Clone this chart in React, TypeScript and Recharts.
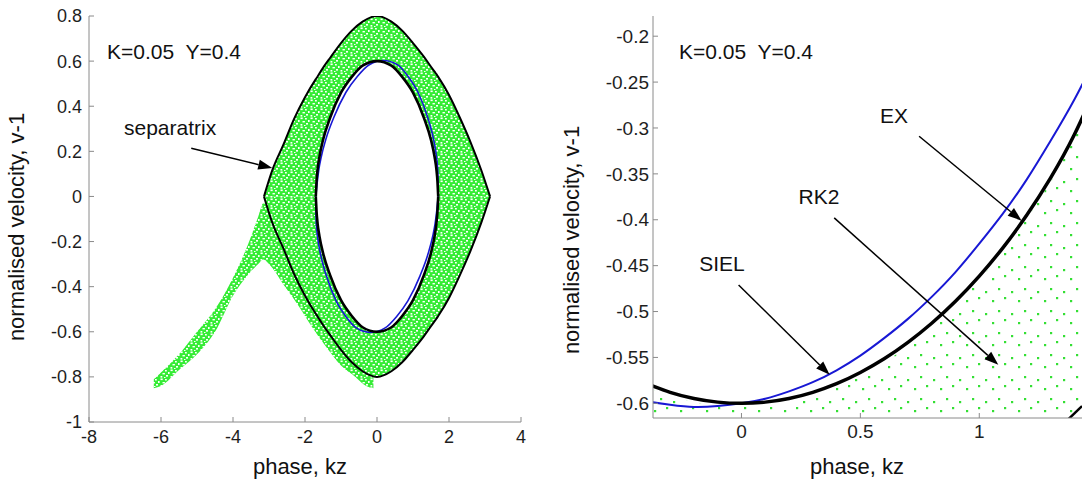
import React from 'react';
import { ComposedChart, Line, Area, XAxis, YAxis, ReferenceLine } from 'recharts';

const FONT = '"Liberation Sans", Arial, Helvetica, sans-serif';
const AXIS = '#8a8a8a';
const EX_BLUE = '#1818d4';

// ---------- left panel: whole phase plane ----------
const sepPhi = [-3.14, -2.9, -2.6, -2.3, -2.0, -1.7, -1.65, -1.6, -1.5, -1.3, -1.0, -0.7, -0.4, 0, 0.4, 0.7, 1.0, 1.3, 1.5, 1.6, 1.65, 1.7, 2.0, 2.3, 2.6, 2.9, 3.14];
const sepTop = [0, 0.12, 0.23, 0.345, 0.44, 0.52, 0.532, 0.545, 0.57, 0.615, 0.68, 0.735, 0.775, 0.8, 0.775, 0.735, 0.68, 0.62, 0.575, 0.553, 0.542, 0.53, 0.45, 0.35, 0.24, 0.115, 0];
// inner orbit on the separatrix grid (0 where the eye is closed)
const holeTop = [0, 0, 0, 0, 0, 0, 0.12, 0.175, 0.25, 0.35, 0.46, 0.53, 0.58, 0.6, 0.58, 0.53, 0.46, 0.35, 0.25, 0.175, 0.12, 0, 0, 0, 0, 0, 0];

// inner trapped orbit (SIEL, black)
const innerPhi = [-1.7, -1.68, -1.65, -1.6, -1.5, -1.3, -1.0, -0.7, -0.4, 0, 0.4, 0.7, 1.0, 1.3, 1.5, 1.6, 1.65, 1.68, 1.7];
const innerTop = [0, 0.065, 0.12, 0.175, 0.25, 0.35, 0.46, 0.53, 0.58, 0.6, 0.58, 0.53, 0.46, 0.35, 0.25, 0.175, 0.12, 0.065, 0];

// same orbit from EX (blue), slightly tilted
const exUpPhi = [-1.7, -1.662, -1.614, -1.548, -1.425, -1.195, -0.862, -0.541, -0.226, 0.18, 0.574, 0.859, 1.138, 1.405, 1.575, 1.653, 1.686, 1.698, 1.7];
const exUpV = [0, 0.06, 0.121, 0.176, 0.251, 0.352, 0.462, 0.533, 0.583, 0.603, 0.583, 0.533, 0.462, 0.352, 0.251, 0.176, 0.121, 0.06, 0];
const exLowPhi = [-1.7, -1.698, -1.686, -1.653, -1.575, -1.405, -1.138, -0.859, -0.574, -0.18, 0.226, 0.541, 0.862, 1.195, 1.425, 1.548, 1.614, 1.662, 1.7];
const exLowV = [0, -0.06, -0.121, -0.176, -0.251, -0.352, -0.462, -0.533, -0.583, -0.603, -0.583, -0.533, -0.462, -0.352, -0.251, -0.176, -0.121, -0.06, 0];

// untrapped particles leaking out to the left
const tailPhi = [-6.2, -6.0, -5.5, -5.0, -4.5, -4.0, -3.6, -3.3, -3.16, -3.0, -2.6, -2.2, -1.8, -1.4, -1.0, -0.6, -0.3, -0.1];
const tailHigh = [-0.81, -0.78, -0.7, -0.6, -0.5, -0.36, -0.22, -0.09, -0.03, -0.04, -0.2, -0.35, -0.47, -0.57, -0.66, -0.72, -0.77, -0.79];
const tailLow = [-0.85, -0.84, -0.77, -0.7, -0.6, -0.44, -0.35, -0.3, -0.28, -0.3, -0.39, -0.48, -0.58, -0.67, -0.75, -0.8, -0.84, -0.85];

const leftXTicks = [-8, -6, -4, -2, 0, 2, 4];
const leftYTicks = [-1, -0.8, -0.6, -0.4, -0.2, 0, 0.2, 0.4, 0.6, 0.8];

// ---------- right panel: zoom on the bottom of the orbit ----------
const zoomPhi = [-0.4, -0.3, -0.2, -0.1, 0, 0.1, 0.2, 0.3, 0.4, 0.5, 0.6, 0.7, 0.8, 0.9, 1.0, 1.1, 1.2, 1.3, 1.4, 1.5];
const sielV = [-0.5786, -0.588, -0.5947, -0.5987, -0.6, -0.5987, -0.5947, -0.588, -0.5786, -0.5664, -0.5515, -0.5336, -0.5128, -0.4888, -0.4614, -0.4303, -0.3949, -0.3544, -0.3072, -0.2504];
const exV = [-0.598, -0.6015, -0.604, -0.603, -0.6, -0.595, -0.587, -0.577, -0.564, -0.548, -0.529, -0.508, -0.484, -0.457, -0.426, -0.393, -0.356, -0.314, -0.269, -0.218];
const zoomSepPhi = [1.36, 1.432];
const zoomSepV = [-0.621, -0.603];

const rightXTicks = [0, 0.5, 1];
const rightYTicks = [-0.6, -0.55, -0.5, -0.45, -0.4, -0.35, -0.3, -0.25, -0.2];

const pts = (xs: number[], ys: number[]) => xs.map((x, i) => ({ x, y: ys[i] }));
const band = (xs: number[], lo: number[], hi: number[]) => xs.map((x, i) => ({ x, band: [lo[i], hi[i]] }));
const neg = (a: number[]) => a.map(v => -v);

const sepUpper = pts(sepPhi, sepTop);
const sepLower = pts(sepPhi, neg(sepTop));
const bandUpper = band(sepPhi, holeTop, sepTop);
const bandLower = band(sepPhi, neg(sepTop), neg(holeTop));
const innerUpper = pts(innerPhi, innerTop);
const innerLower = pts(innerPhi, neg(innerTop));
const exUpper = pts(exUpPhi, exUpV);
const exLower = pts(exLowPhi, exLowV);
const tailBand = band(tailPhi, tailLow, tailHigh);

const sielZoom = pts(zoomPhi, sielV);
const exZoom = pts(zoomPhi, exV);
const sepZoom = pts(zoomSepPhi, zoomSepV);
const dotsZoom = band(zoomPhi, zoomPhi.map(() => -0.63), sielV.map(v => v - 0.004));

// inward MATLAB-style ticks, drawn by hand
const tickFor = (side: 'left' | 'bottom' | 'top' | 'right', gap: number, size: number) => (p: any) => {
    const { x, y, payload } = p;
    const len = 5;
    const label = String(payload.value);
    const txt = { fontSize: size, fontFamily: FONT, fill: '#1e1e1e' };
    if (side === 'left') {
        return (
            <g>
                <line x1={x + gap} y1={y} x2={x + gap + len} y2={y} stroke={AXIS} />
                <text x={x} y={y} dy="0.355em" textAnchor="end" {...txt}>{label}</text>
            </g>
        );
    }
    if (side === 'bottom') {
        return (
            <g>
                <line x1={x} y1={y - gap} x2={x} y2={y - gap - len} stroke={AXIS} />
                <text x={x} y={y} dy="0.71em" textAnchor="middle" {...txt}>{label}</text>
            </g>
        );
    }
    if (side === 'top') return <line x1={x} y1={y} x2={x} y2={y + len} stroke={AXIS} />;
    return <line x1={x} y1={y} x2={x - len} y2={y} stroke={AXIS} />;
};

const Arrow = (p: any) => {
    const { x1, y1, x2, y2 } = p;
    const a = Math.atan2(y2 - y1, x2 - x1);
    const L = 14;
    const W = 5;
    const bx = x2 - L * Math.cos(a);
    const by = y2 - L * Math.sin(a);
    const nx = -Math.sin(a) * W;
    const ny = Math.cos(a) * W;
    return (
        <g>
            <line x1={x1} y1={y1} x2={bx} y2={by} stroke="#000" strokeWidth={1.5} />
            <polygon points={`${x2},${y2} ${bx + nx},${by + ny} ${bx - nx},${by - ny}`} fill="#000" />
        </g>
    );
};

const Note = ({ x, y, size = 21, center = false, children }: any) => (
    <div style={{
        position: 'absolute', left: x, top: y, fontSize: size, lineHeight: 1, whiteSpace: 'pre', color: '#111',
        transform: center ? 'translate(-50%, -50%)' : 'translateY(-50%)'
    }}>{children}</div>
);

const VLabel = ({ x, y, children }: any) => (
    <div style={{
        position: 'absolute', left: x, top: y, fontSize: 22, lineHeight: 1, whiteSpace: 'nowrap', color: '#111',
        transform: 'translate(-50%, -50%) rotate(-90deg)'
    }}>{children}</div>
);

const lineProps = { dataKey: 'y', dot: false, activeDot: false, isAnimationActive: false, type: 'monotone' as const };
const areaProps = { dataKey: 'band', stroke: 'none', dot: false, activeDot: false, isAnimationActive: false, type: 'monotone' as const };

export default function App() {
    return (
        <div style={{ position: 'fixed', left: 0, top: 0, width: 1085, height: 482, overflow: 'hidden', background: '#fff', fontFamily: FONT }}>
            <div style={{ position: 'absolute', left: 0, top: 0 }}>
                <ComposedChart width={540} height={482} margin={{ top: 16, right: 19, bottom: 0, left: 29 }}>
                    <defs>
                        <pattern id="greenDense" patternUnits="userSpaceOnUse" width={10} height={9}>
                            <rect width={10} height={9} fill="#35ec35" />
                            <rect x={0.5} y={0.5} width={2.2} height={1.6} fill="#fff" />
                            <rect x={5} y={1} width={1.8} height={1.5} fill="#fff" />
                            <rect x={8} y={3} width={1.6} height={2} fill="#fff" />
                            <rect x={2.5} y={4} width={2.4} height={1.4} fill="#fff" />
                            <rect x={6} y={6} width={2} height={1.6} fill="#fff" />
                            <rect x={0.5} y={7} width={1.8} height={1.6} fill="#fff" />
                            <rect x={4} y={8} width={1.5} height={1} fill="#fff" />
                        </pattern>
                    </defs>
                    <XAxis type="number" dataKey="x" domain={[-8, 4]} ticks={leftXTicks} interval={0} allowDataOverflow
                        height={60} tickSize={0} tickMargin={8} tickLine={false} tick={tickFor('bottom', 8, 18)} axisLine={{ stroke: AXIS }} />
                    <XAxis xAxisId="top" orientation="top" type="number" dataKey="x" domain={[-8, 4]} ticks={leftXTicks} interval={0} allowDataOverflow
                        height={0} tickSize={0} tickMargin={0} tickLine={false} tick={tickFor('top', 0, 0)} axisLine={{ stroke: AXIS }} />
                    <YAxis type="number" domain={[-1, 0.8]} ticks={leftYTicks} interval={0} allowDataOverflow
                        width={60} tickSize={0} tickMargin={7} tickLine={false} tick={tickFor('left', 7, 18)} axisLine={{ stroke: AXIS }} />
                    <YAxis yAxisId="right" orientation="right" type="number" domain={[-1, 0.8]} ticks={leftYTicks} interval={0} allowDataOverflow
                        width={0} tickSize={0} tickMargin={0} tickLine={false} tick={tickFor('right', 0, 0)} axisLine={{ stroke: AXIS }} />

                    <Line {...lineProps} data={exUpper} stroke={EX_BLUE} strokeWidth={1.6} />
                    <Line {...lineProps} data={exLower} stroke={EX_BLUE} strokeWidth={1.6} />
                    <Area {...areaProps} data={tailBand} fill="url(#greenDense)" fillOpacity={1} />
                    <Area {...areaProps} data={bandUpper} fill="url(#greenDense)" fillOpacity={1} />
                    <Area {...areaProps} data={bandLower} fill="url(#greenDense)" fillOpacity={1} />
                    <Line {...lineProps} data={innerUpper} stroke="#000" strokeWidth={2.6} />
                    <Line {...lineProps} data={innerLower} stroke="#000" strokeWidth={2.6} />
                    <Line {...lineProps} data={sepUpper} stroke="#000" strokeWidth={2} />
                    <Line {...lineProps} data={sepLower} stroke="#000" strokeWidth={2} />
                    <ReferenceLine segment={[{ x: -5.16, y: 0.214 }, { x: -2.91, y: 0.126 }]} shape={Arrow} />
                </ComposedChart>
            </div>

            <div style={{ position: 'absolute', left: 540, top: 0 }}>
                <ComposedChart width={545} height={482} margin={{ top: 16, right: 3, bottom: 0, left: 43 }}>
                    <defs>
                        <pattern id="greenSparse" patternUnits="userSpaceOnUse" width={26} height={22}>
                            <rect x={3} y={5} width={2.2} height={2.2} fill="#33df33" />
                            <rect x={16} y={2} width={2.2} height={2.2} fill="#33df33" />
                            <rect x={10} y={14} width={2.2} height={2.2} fill="#33df33" />
                            <rect x={22} y={11} width={2.2} height={2.2} fill="#33df33" />
                        </pattern>
                    </defs>
                    <XAxis type="number" dataKey="x" domain={[-0.372, 1.432]} ticks={rightXTicks} interval={0} allowDataOverflow
                        height={64} tickSize={0} tickMargin={7} tickLine={false} tick={tickFor('bottom', 7, 19)} axisLine={{ stroke: AXIS }} />
                    <XAxis xAxisId="top" orientation="top" type="number" dataKey="x" domain={[-0.372, 1.432]} ticks={rightXTicks} interval={0} allowDataOverflow
                        height={0} tickSize={0} tickMargin={0} tickLine={false} tick={tickFor('top', 0, 0)} axisLine={{ stroke: AXIS }} />
                    <YAxis type="number" domain={[-0.616, -0.178]} ticks={rightYTicks} interval={0} allowDataOverflow
                        width={70} tickSize={0} tickMargin={4} tickLine={false} tick={tickFor('left', 4, 19)} axisLine={{ stroke: AXIS }} />
                    <YAxis yAxisId="right" orientation="right" type="number" domain={[-0.616, -0.178]} ticks={rightYTicks} interval={0} allowDataOverflow
                        width={0} tickSize={0} tickMargin={0} tickLine={false} tick={tickFor('right', 0, 0)} axisLine={{ stroke: AXIS }} />

                    <Area {...areaProps} data={dotsZoom} fill="url(#greenSparse)" fillOpacity={1} type="natural" />
                    <Line {...lineProps} data={sepZoom} stroke="#000" strokeWidth={2.5} type="linear" />
                    <Line {...lineProps} data={exZoom} stroke={EX_BLUE} strokeWidth={2} type="natural" />
                    <Line {...lineProps} data={sielZoom} stroke="#000" strokeWidth={3.5} type="natural" />
                    <ReferenceLine segment={[{ x: 0.747, y: -0.309 }, { x: 1.178, y: -0.401 }]} shape={Arrow} />
                    <ReferenceLine segment={[{ x: 0.39, y: -0.398 }, { x: 1.08, y: -0.558 }]} shape={Arrow} />
                    <ReferenceLine segment={[{ x: -0.012, y: -0.471 }, { x: 0.371, y: -0.569 }]} shape={Arrow} />
                </ComposedChart>
            </div>

            <Note x={107} y={51}>K=0.05  Y=0.4</Note>
            <Note x={124} y={127}>separatrix</Note>
            <Note x={300} y={467} size={22} center>phase, kz</Note>
            <VLabel x={17} y={227}>normalised velocity, v-1</VLabel>

            <Note x={679} y={51}>K=0.05  Y=0.4</Note>
            <Note x={894} y={115} center>EX</Note>
            <Note x={819} y={196} center>RK2</Note>
            <Note x={722} y={263} center>SIEL</Note>
            <Note x={857} y={467} size={22} center>phase, kz</Note>
            <VLabel x={572} y={240}>normalised velocity, v-1</VLabel>
        </div>
    );
}
